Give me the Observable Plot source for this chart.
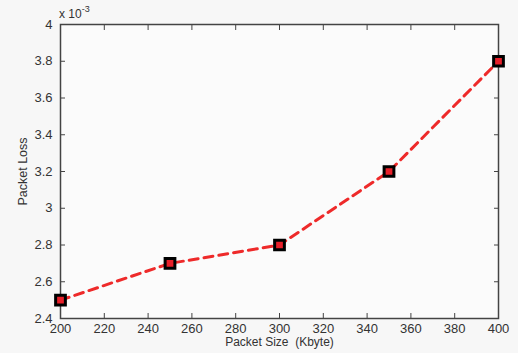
<!DOCTYPE html>
<html><head><meta charset="utf-8">
<script src="https://cdn.jsdelivr.net/npm/d3@7"></script>
<script src="https://cdn.jsdelivr.net/npm/@observablehq/plot@0.6"></script>
<style>
body{margin:0;background:#f7f7f7}
#c{position:relative;width:518px;height:353px}
.exp{position:absolute;left:59px;top:5px;font:12px "Liberation Sans",Arial,sans-serif;color:#333}
.exp sup{font-size:9px;position:relative;top:-1px}
</style>
</head><body>
<div id="c"><div class="exp">x 10<sup>-3</sup></div></div>
<script>
const packetSize = [200, 250, 300, 350, 400];
const packetLoss = [2.5, 2.7, 2.8, 3.2, 3.8];
const xTicks = [200, 220, 240, 260, 280, 300, 320, 340, 360, 380, 400];
const yTicks = [2.4, 2.6, 2.8, 3, 3.2, 3.4, 3.6, 3.8, 4];
const xLabel = "Packet Size  (Kbyte)";
const yLabel = "Packet Loss";

const data = packetSize.map((x, i) => ({x, y: packetLoss[i]}));
const fmt = d => String(+d.toFixed(1));

const chart = Plot.plot({
  width: 518, height: 353,
  marginLeft: 60, marginRight: 20, marginTop: 24, marginBottom: 35,
  style: {background: "transparent", fontFamily: "'Liberation Sans', Arial, sans-serif", fontSize: "13px", color: "#333"},
  x: {domain: [200, 400]},
  y: {domain: [2.4, 4]},
  marks: [
    Plot.frame({fill: "#fbfbfb", stroke: null}),
    Plot.axisX(xTicks, {anchor: "bottom", tickSize: 0, tickPadding: 5, tickFormat: fmt, label: null}),
    Plot.axisX(xTicks, {anchor: "bottom", tickSize: -5, tickFormat: () => "", label: null, stroke: "#444"}),
    Plot.axisX(xTicks, {anchor: "top", tickSize: -5, tickFormat: () => "", label: null, stroke: "#444"}),
    Plot.axisX([], {anchor: "bottom", label: xLabel, labelAnchor: "center", labelArrow: "none", labelOffset: 27, fontSize: 12, fill: "#333", dx: 10}),
    Plot.axisY(yTicks, {anchor: "left", tickSize: 0, tickPadding: 8, tickFormat: fmt, label: null}),
    Plot.axisY(yTicks, {anchor: "left", tickSize: -5, tickFormat: () => "", label: null, stroke: "#444"}),
    Plot.axisY(yTicks, {anchor: "right", tickSize: -5, tickFormat: () => "", label: null, stroke: "#444"}),
    Plot.axisY([], {anchor: "left", label: yLabel, labelAnchor: "center", labelArrow: "none", labelOffset: 42, fontSize: 12.5, fill: "#333"}),
    Plot.frame({stroke: "#444", strokeWidth: 1.5}),
    Plot.line(data, {x: "x", y: "y", stroke: "#ee2a2a", strokeWidth: 3, strokeDasharray: "9,6"}),
    Plot.dot(data, {x: "x", y: "y", symbol: "square", r: 5.5, fill: "#e8202a", stroke: "#000", strokeWidth: 3})
  ]
});
document.getElementById("c").appendChild(chart);
</script>
</body></html>
